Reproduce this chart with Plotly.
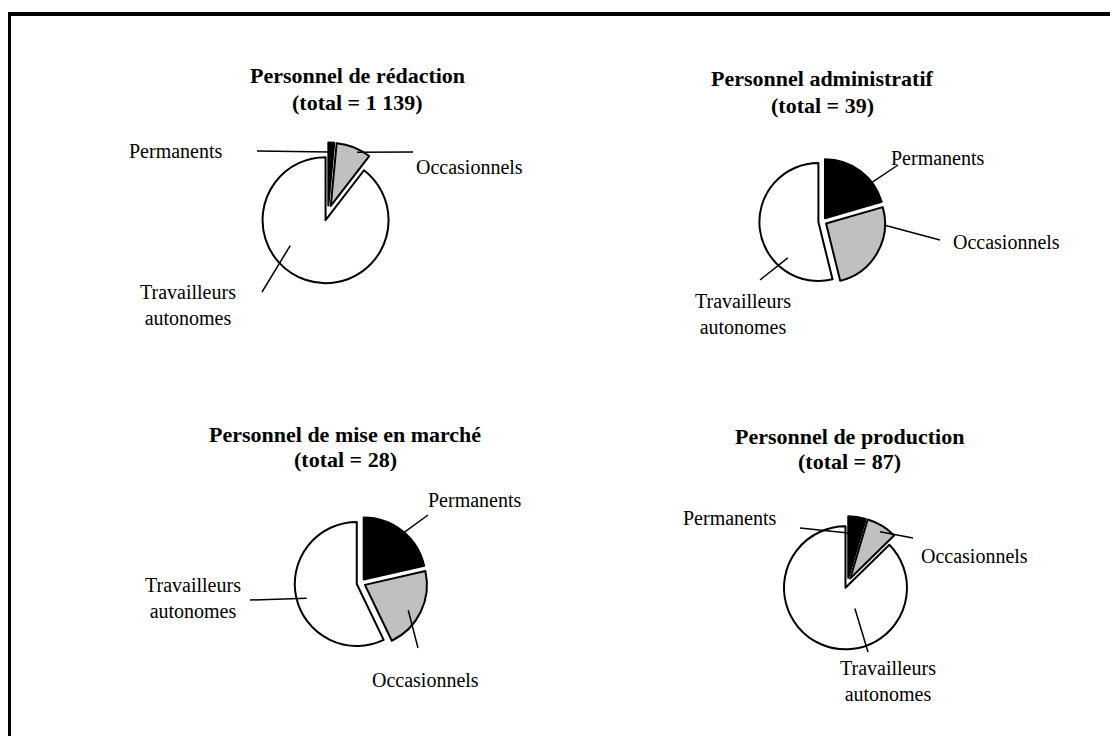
import math
import plotly.graph_objects as go

W, H = 1118, 736
PAGE_OFFSET = 8  # browser body margin: figure starts 8px in from the window edge

# ---------------- data ----------------
categories = ["Permanents", "Occasionnels", "Travailleurs autonomes"]
titles = ["Personnel de rédaction", "Personnel administratif",
          "Personnel de mise en marché", "Personnel de production"]
totals_text = ["(total = 1 139)", "(total = 39)", "(total = 28)", "(total = 87)"]
redaction = [17, 102, 1020]
administratif = [8, 10, 21]
mise_en_marche = [6, 6, 16]
production = [4, 7, 76]
series = [redaction, administratif, mise_en_marche, production]
colors = ["#000000", "#C0C0C0", "#FFFFFF"]

# ---------------- layout (window pixels) ----------------
pies = [
    dict(c=(328, 213), r=63, pull=0.12, title=(357, 76, 102),
         labels=[dict(t=(176, 151), a=(257, 151), u=0.3, f=0.85),
                 dict(t=(469, 167), a=(413, 152), u=0.64, f=0.95),
                 dict(t=(188, 305), a=(262, 292), u=0.61, f=0.69)]),
    dict(c=(822.5, 221.5), r=59, pull=0.07, title=(822, 79, 105),
         labels=[dict(t=(938, 158), a=(898, 165), u=0.71, f=0.95),
                 dict(t=(1006, 242), a=(940, 240), u=0.19, f=0.98),
                 dict(t=(743, 314), a=(760, 280), u=0.28, f=0.8)]),
    dict(c=(361, 583), r=62, pull=0.07, title=(345, 434, 460),
         labels=[dict(t=(475, 500), a=(428, 515), u=0.52, f=0.97),
                 dict(t=(425, 680), a=(418, 648), u=0.56, f=0.81),
                 dict(t=(193, 598), a=(250, 600), u=0.485, f=0.84)]),
    dict(c=(847.5, 583), r=61.5, pull=0.085, title=(849, 436, 461),
         labels=[dict(t=(730, 518), a=(800, 528), u=0.0, f=0.73),
                 dict(t=(974, 556), a=(913, 538), u=0.55, f=0.9),
                 dict(t=(888, 681), a=(868, 652), u=0.35, f=0.37)]),
]


def px(x):
    return (x - PAGE_OFFSET) / W


def py(y):
    return 1 - (y - PAGE_OFFSET) / H


fig = go.Figure()
shapes = []
annotations = []

for vals, title, tot, p in zip(series, titles, totals_text, pies):
    cx, cy = p["c"]
    r, pull = p["r"], p["pull"]
    side = 2 * r * (1 + pull)
    fig.add_trace(go.Pie(
        labels=categories, values=vals, sort=False, direction="clockwise",
        rotation=0, pull=[pull] * len(vals), textinfo="none",
        hoverinfo="label+value",
        marker=dict(colors=colors, line=dict(color="#000000", width=2)),
        domain=dict(x=[px(cx - side / 2), px(cx + side / 2)],
                    y=[py(cy + side / 2), py(cy - side / 2)]),
        showlegend=False,
    ))
    # titles
    tx, ty1, ty2 = p["title"]
    for txt, ty in ((title, ty1), (tot, ty2)):
        annotations.append(dict(
            text="<b>%s</b>" % txt, x=px(tx), y=py(ty), xref="paper", yref="paper",
            showarrow=False, xanchor="center", yanchor="middle",
            font=dict(family="Liberation Serif", size=22, color="#000000")))
    # labels with leader lines computed from slice angles
    total = sum(vals)
    start = 0.0
    for cat, v, lab in zip(categories, vals, p["labels"]):
        span = v / total * 360.0
        mid = math.radians(start + span / 2)
        th = math.radians(start + lab["u"] * span)
        ox = cx + pull * r * math.sin(mid)
        oy = cy - pull * r * math.cos(mid)
        tgx = ox + lab["f"] * r * math.sin(th)
        tgy = oy - lab["f"] * r * math.cos(th)
        ax, ay = lab["a"]
        shapes.append(dict(type="line", xref="paper", yref="paper",
                           x0=px(ax), y0=py(ay), x1=px(tgx), y1=py(tgy),
                           line=dict(color="#000000", width=1.5)))
        annotations.append(dict(
            text=cat.replace(" ", "<br>"), x=px(lab["t"][0]), y=py(lab["t"][1]),
            xref="paper", yref="paper", showarrow=False,
            xanchor="center", yanchor="middle",
            font=dict(family="Liberation Serif", size=20, color="#000000")))
        start += span

# outer frame (left and top edges visible)
shapes.append(dict(type="line", xref="paper", yref="paper",
                   x0=px(9), y0=py(12), x1=px(9), y1=py(H + 20),
                   line=dict(color="#000000", width=4)))
shapes.append(dict(type="line", xref="paper", yref="paper",
                   x0=px(7), y0=py(14), x1=px(W + 20), y1=py(14),
                   line=dict(color="#000000", width=4)))

fig.update_layout(
    width=W, height=H, margin=dict(l=0, r=0, t=0, b=0),
    paper_bgcolor="#FFFFFF", plot_bgcolor="#FFFFFF",
    shapes=shapes, annotations=annotations,
)

fig.write_html("out.html")
